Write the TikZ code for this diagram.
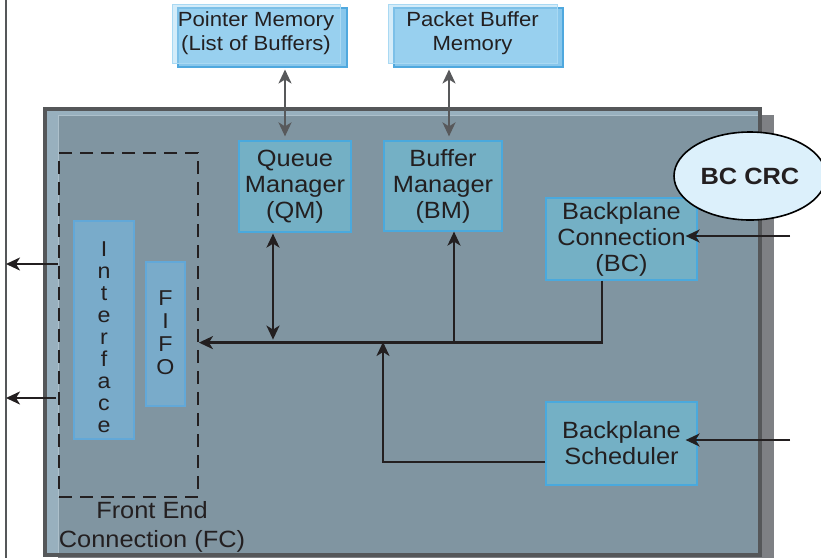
\documentclass[tikz,border=0pt]{standalone}
\usepackage{fontspec}
\setmainfont{Liberation Sans}[FakeStretch=1.08]
\usetikzlibrary{arrows.meta,shapes.geometric}
\definecolor{txt}{HTML}{231F20}
\definecolor{memf}{HTML}{88C7EC}
\definecolor{memb}{HTML}{4FA8DE}
\definecolor{memlt}{HTML}{A9D9F3}
\definecolor{modf}{HTML}{74B0C5}
\definecolor{modb}{HTML}{4AA9DD}
\definecolor{iff}{HTML}{79ABCA}
\definecolor{ifb}{HTML}{62A8D8}
\definecolor{chipf}{HTML}{8095A1}
\definecolor{chiplt}{HTML}{98B0BE}
\definecolor{chipb}{HTML}{555759}
\definecolor{shad}{HTML}{7E8084}
\definecolor{crcf}{HTML}{DCF0FB}
\definecolor{garr}{HTML}{58595B}
\tikzset{
  modbox/.style={draw=modb, fill=modf, line width=1.2pt, inner sep=0pt, align=center,
    text=txt, font=\fontsize{23.5}{26}\selectfont},
  membox/.style={draw=memlt, fill=memlt, fill opacity=0.5, text opacity=1, line width=1pt,
    inner sep=0pt, align=center, text=txt, font=\fontsize{20.5}{24}\selectfont},
  memback/.style={draw=memb, fill=memf, line width=1.2pt},
  vbox/.style={draw=ifb, fill=iff, line width=1.2pt, inner sep=0pt},
  vtext/.style={align=center, text=txt, inner sep=0pt, font=\fontsize{21.5}{22}\selectfont},
  arr/.style={draw=txt, line width=2.3pt, -{Stealth[length=14pt,width=13pt,inset=4pt]}},
  arrb/.style={draw=txt, line width=2.3pt, {Stealth[length=14pt,width=13pt,inset=4pt]}-{Stealth[length=14pt,width=13pt,inset=4pt]}},
  garrb/.style={draw=garr, line width=2.3pt, {Stealth[length=14pt,width=13pt,inset=4pt]}-{Stealth[length=14pt,width=13pt,inset=4pt]}},
}
\begin{document}
\begin{tikzpicture}[x=1pt,y=-1pt]
\useasboundingbox (0,0) rectangle (821,558);
% left border line
\draw[chipb, line width=2.2pt] (6,0) -- (6,558);
% chip with shadow
\fill[shad] (58,115) rectangle (774,558);
\fill[chiplt] (45,109) rectangle (760,555);
\fill[chipf] (58,115) rectangle (758,553);
\draw[chiplt!80!white, line width=0.6pt] (58,115) rectangle (758,553);
\draw[chipb, line width=3.4pt] (45,109) rectangle (760,555);
% memories
\draw[memback] (178,8) rectangle (347,67);
\node[membox, minimum width=168pt, minimum height=59pt] (pm) at (256,33.5) {Pointer Memory\\(List of Buffers)};
\draw[memback] (394,8) rectangle (563,67);
\node[membox, minimum width=169pt, minimum height=59pt] (pbm) at (472.5,33.5) {Packet Buffer\\Memory};
% modules
\node[modbox, minimum width=112pt, minimum height=91pt] (qm) at (295,186.5) {Queue\\Manager\\(QM)};
\node[modbox, minimum width=118pt, minimum height=90pt] (bm) at (443,186) {Buffer\\Manager\\(BM)};
\node[modbox, minimum width=151pt, minimum height=82pt] (bc) at (621.5,239) {Backplane\\Connection\\(BC)};
\node[modbox, minimum width=151pt, minimum height=83pt] (bs) at (621.5,443.5) {Backplane\\Scheduler};
% BC CRC
\node[ellipse, draw=black, fill=crcf, line width=1.6pt, minimum width=152pt, minimum height=88pt,
  inner sep=0pt, text=txt, font=\fontsize{23.5}{26}\selectfont\bfseries] (crc) at (750,176) {BC CRC};
% front end connection
\node[draw=txt, dash pattern=on 13pt off 8pt, line width=1.9pt, minimum width=139pt, minimum height=344pt, inner sep=0pt] (fc) at (128.5,325) {};
\node[vbox, minimum width=60pt, minimum height=218pt] (iface) at (104,330) {};
\node[vtext] (ifacet) at (104,337) {I\\n\\t\\e\\r\\f\\a\\c\\e};
\node[vbox, minimum width=39pt, minimum height=144pt] (fifo) at (165.5,334) {};
\node[vtext, font=\fontsize{21.5}{23}\selectfont] (fifot) at (165.5,332.5) {F\\I\\F\\O};
\node[align=center, text=txt, inner sep=0pt, font=\fontsize{23.5}{29}\selectfont] (fclab) at (152,527) {Front End\\Connection (FC)};
% memory links
\draw[garrb, shorten <=6pt, shorten >=4pt] ([xshift=29pt]pm.south) -- ([xshift=-10pt]qm.north);
\draw[garrb, shorten <=6pt, shorten >=4pt] ([xshift=-23.5pt]pbm.south) -- ([xshift=6pt]bm.north);
% internal bus
\draw[arr] ([xshift=-19.5pt]bc.south) -- ++(0,62) coordinate (busR) -- (busR -| fc.east);
\path ([xshift=-22pt]qm.south) coordinate (qmS);
\draw[arrb, shorten <=1pt, shorten >=3pt] (qmS) -- (qmS |- busR);
\path ([xshift=11pt]bm.south) coordinate (bmS);
\draw[arr] (bmS |- busR) -- (bmS);
\coordinate (busM) at (383,342);
\draw[arr] ([yshift=-18.5pt]bs.west) -| (busM);
% external inputs
\coordinate (inBC) at (790,236);
\coordinate (inBS) at (790,440);
\draw[arr] (inBC) -- ([xshift=-12pt]inBC -| bc.east);
\draw[arr] (inBS) -- ([xshift=-12pt]inBS -| bs.east);
% outputs to the left
\coordinate (out1) at (6,264);
\coordinate (out2) at (6,398);
\draw[arr] (fc.west |- out1) -- (out1);
\draw[arr] ([xshift=-2pt]fc.west |- out2) -- (out2);
\end{tikzpicture}
\end{document}
